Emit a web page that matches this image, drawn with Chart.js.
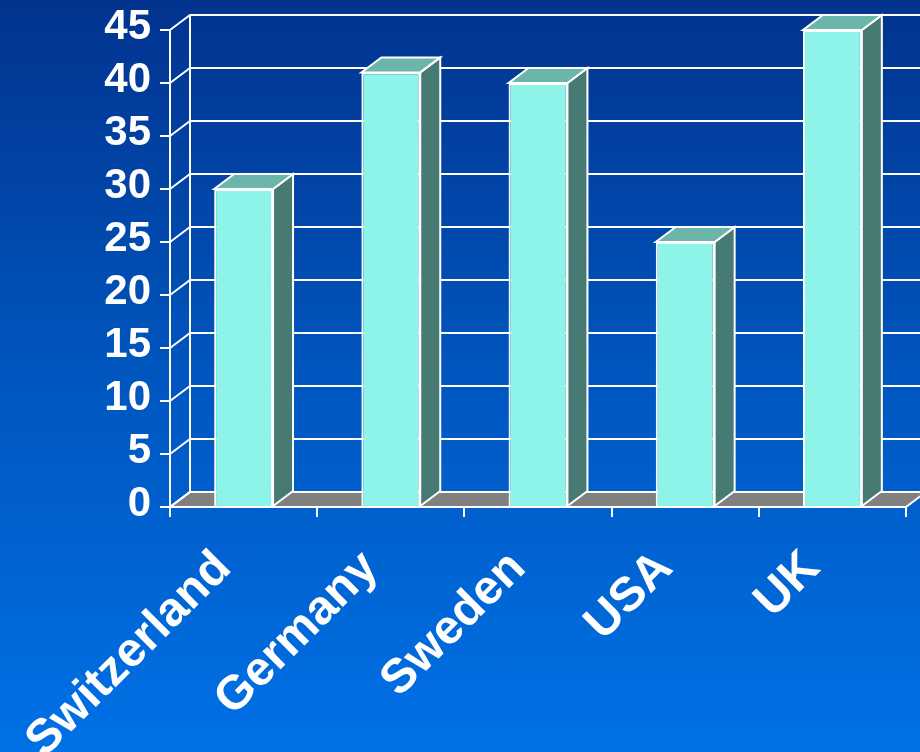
<!DOCTYPE html>
<html>
<head>
<meta charset="utf-8">
<script src="https://cdn.jsdelivr.net/npm/chart.js@4.4.1/dist/chart.umd.min.js"></script>
<style>
    html, body { margin: 0; padding: 0; }
    body {
        width: 920px;
        height: 752px;
        overflow: hidden;
        background: linear-gradient(to bottom, #02338e 0%, #0056bf 50%, #0071e6 100%);
    }
    #wrap { width: 920px; height: 752px; }
</style>
</head>
<body>
<div id="wrap"><canvas id="chart"></canvas></div>
<script>
// ---------------------------
// Data
// ---------------------------
const countries = ["Switzerland", "Germany", "Sweden", "USA", "UK"];
const values = [30, 41, 40, 25, 45];
const yTicks = [0, 5, 10, 15, 20, 25, 30, 35, 40, 45];

// ---------------------------
// 3D look
// ---------------------------
const DX = 20;   // depth to the right
const DY = 15;   // depth upwards
const FRONT = "#8ef4ea";
const SIDE = "#487a74";
const TOP = "#6bb5ab";
const FLOOR = "#808080";
const LINE = "#ffffff";

const FONT = "'Liberation Sans', Arial, sans-serif";

function poly(ctx, pts, fill) {
    ctx.beginPath();
    ctx.moveTo(pts[0][0], pts[0][1]);
    for (let i = 1; i < pts.length; i++) ctx.lineTo(pts[i][0], pts[i][1]);
    ctx.closePath();
    if (fill) { ctx.fillStyle = fill; ctx.fill(); }
    ctx.stroke();
}

// back wall, left wall and floor, under the bars
const wallsPlugin = {
    id: "walls",
    beforeDatasetsDraw(chart) {
        const ctx = chart.ctx;
        const y = chart.scales.y;
        const a = chart.chartArea;
        const bottom = y.getPixelForValue(0);
        const top = y.getPixelForValue(45);

        ctx.save();
        ctx.strokeStyle = LINE;
        ctx.lineWidth = 2;

        // floor
        poly(ctx, [[a.left, bottom], [a.right, bottom], [a.right + DX, bottom - DY], [a.left + DX, bottom - DY]], FLOOR);

        // back wall grid + left wall diagonals
        yTicks.forEach(v => {
            const py = y.getPixelForValue(v);
            ctx.beginPath();
            ctx.moveTo(a.left, py);
            ctx.lineTo(a.left + DX, py - DY);
            ctx.lineTo(a.right + DX + 40, py - DY);
            ctx.stroke();
        });

        // back wall left edge
        ctx.beginPath();
        ctx.moveTo(a.left + DX, top - DY);
        ctx.lineTo(a.left + DX, bottom - DY);
        ctx.stroke();

        // front edges
        ctx.beginPath();
        ctx.moveTo(a.left, top);
        ctx.lineTo(a.left, bottom);
        ctx.lineTo(a.right, bottom);
        ctx.stroke();
        ctx.restore();
    }
};

// side and top faces of every bar
const barSidesPlugin = {
    id: "barSides",
    afterDatasetsDraw(chart) {
        const ctx = chart.ctx;
        const meta = chart.getDatasetMeta(0);
        ctx.save();
        ctx.strokeStyle = LINE;
        ctx.lineWidth = 2;
        ctx.lineJoin = "miter";
        meta.data.forEach(bar => {
            const p = bar.getProps(["x", "y", "base", "width"], true);
            const l = p.x - p.width / 2;
            const r = p.x + p.width / 2;
            poly(ctx, [[r, p.base], [r, p.y], [r + DX, p.y - DY], [r + DX, p.base - DY]], SIDE);
            poly(ctx, [[l, p.y], [r, p.y], [r + DX, p.y - DY], [l + DX, p.y - DY]], TOP);
        });
        ctx.restore();
    }
};

// ---------------------------
// Chart
// ---------------------------
new Chart(document.getElementById("chart"), {
    type: "bar",
    data: {
        labels: countries,
        datasets: [{
            data: values,
            backgroundColor: FRONT,
            borderColor: LINE,
            borderWidth: 2,
            barPercentage: 0.4,
            categoryPercentage: 1.0
        }]
    },
    options: {
        responsive: true,
        maintainAspectRatio: false,
        animation: false,
        layout: { padding: { left: 0, right: 14, top: 30, bottom: 0 } },
        plugins: {
            legend: { display: false },
            tooltip: { enabled: false }
        },
        scales: {
            x: {
                afterFit: s => { s.height = 245; },
                grid: {
                    drawOnChartArea: false,
                    color: LINE,
                    lineWidth: 2,
                    tickLength: 10
                },
                border: { color: LINE, width: 2 },
                ticks: {
                    color: "#ffffff",
                    autoSkip: false,
                    minRotation: 45,
                    maxRotation: 45,
                    labelOffset: -20,
                    padding: 23,
                    font: { family: FONT, size: 48, weight: "bold" }
                }
            },
            y: {
                min: 0,
                max: 45,
                afterFit: s => { s.width = 170; },
                afterBuildTicks: s => { s.ticks = yTicks.map(v => ({ value: v })); },
                grid: {
                    drawOnChartArea: false,
                    color: LINE,
                    lineWidth: 2,
                    tickLength: 10
                },
                border: { color: LINE, width: 2 },
                ticks: {
                    color: "#ffffff",
                    autoSkip: false,
                    padding: 9,
                    labelOffset: -3,
                    font: { family: FONT, size: 42, weight: "bold", lineHeight: 1 }
                }
            }
        }
    },
    plugins: [wallsPlugin, barSidesPlugin]
});
</script>
</body>
</html>
